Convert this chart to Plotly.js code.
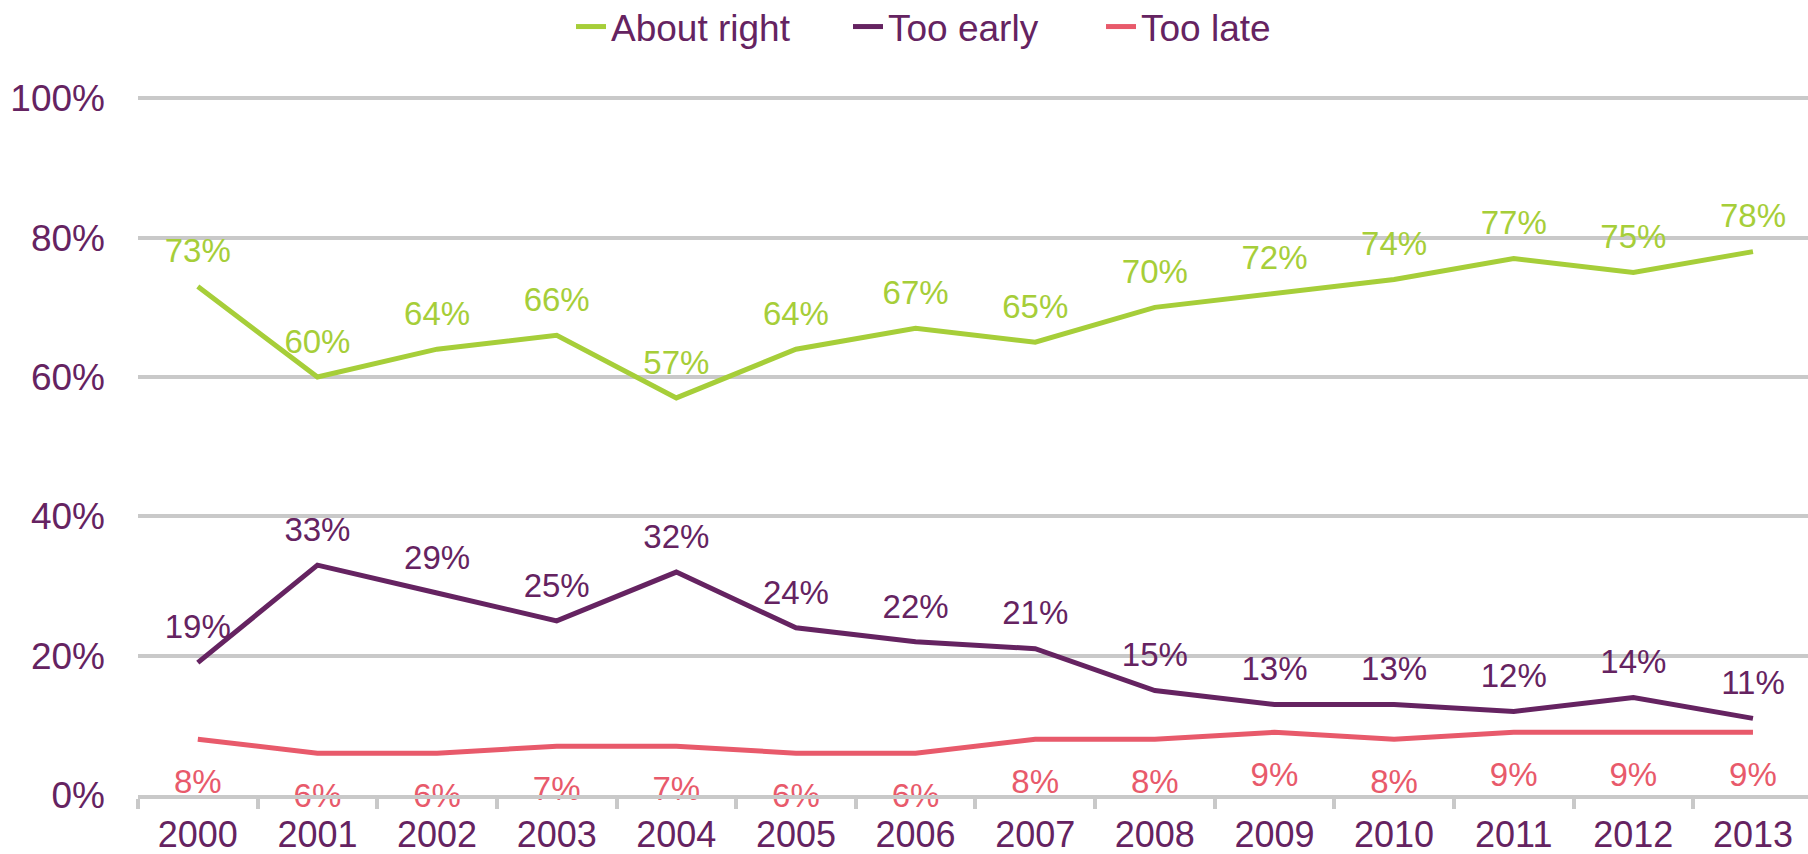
<!DOCTYPE html>
<html>
<head>
<meta charset="utf-8">
<script src="https://cdn.plot.ly/plotly-3.0.1.min.js"></script>
<style>html,body{margin:0;padding:0;background:#fff;}#chart{width:1808px;height:854px;}</style>
</head>
<body>
<div id="chart"></div>
<script>
const years = ['2000','2001','2002','2003','2004','2005','2006','2007','2008','2009','2010','2011','2012','2013'];
const aboutRight = [73, 60, 64, 66, 57, 64, 67, 65, 70, 72, 74, 77, 75, 78];
const tooEarly = [19, 33, 29, 25, 32, 24, 22, 21, 15, 13, 13, 12, 14, 11];
const tooLate = [8, 6, 6, 7, 7, 6, 6, 8, 8, 9, 8, 9, 9, 9];
const yTicks = [0, 20, 40, 60, 80, 100];

const GREEN = '#A6CE39';
const PURPLE = '#652361';
const RED = '#E85A6B';
const GRID = '#C9C9C9';
const FONT = 'Liberation Sans, Arial, sans-serif';

function series(name, y, color, pos, msize, legendId) {
  return {
    type: 'scatter',
    mode: 'lines+markers+text',
    name: name,
    legend: legendId,
    x: years,
    y: y,
    line: {color: color, width: 5},
    marker: {size: msize, opacity: 0, color: 'rgba(0,0,0,0)', line: {width: 0}},
    text: y.map(v => v + '%'),
    textposition: pos,
    textfont: {family: FONT, size: 33, color: color},
    cliponaxis: false,
    hoverinfo: 'skip'
  };
}

const data = [
  series('About right', aboutRight, GREEN, 'top center', 24, 'legend'),
  series('Too early', tooEarly, PURPLE, 'top center', 24, 'legend2'),
  series('Too late', tooLate, RED, 'bottom center', 45, 'legend3')
];

function leg(xpx) {
  return {
    orientation: 'h',
    xref: 'container', yref: 'container',
    x: xpx / 1808, xanchor: 'left',
    y: 1 - 27 / 854, yanchor: 'middle',
    font: {family: FONT, size: 37, color: PURPLE},
    bgcolor: 'rgba(0,0,0,0)',
    borderwidth: 0
  };
}

const layout = {
  width: 1808,
  height: 854,
  margin: {l: 138, r: 0, t: 97, b: 59, autoexpand: false},
  paper_bgcolor: '#ffffff',
  plot_bgcolor: '#ffffff',
  font: {family: FONT, color: PURPLE},
  showlegend: true,
  legend: leg(571),
  legend2: leg(848),
  legend3: leg(1101),
  xaxis: {
    type: 'category',
    range: [-0.5, 13.46],
    showgrid: false,
    showline: true,
    linecolor: GRID,
    linewidth: 4,
    ticks: 'outside',
    tickson: 'boundaries',
    ticklen: 10,
    tickwidth: 4,
    tickcolor: GRID,
    ticklabelstandoff: 5,
    tickfont: {family: FONT, size: 36, color: PURPLE},
    zeroline: false,
    automargin: false
  },
  yaxis: {
    range: [0, 100.2],
    tickvals: yTicks,
    ticktext: yTicks.map(v => v + '%'),
    showgrid: true,
    gridcolor: GRID,
    gridwidth: 4,
    zeroline: false,
    showline: false,
    ticks: '',
    ticklabelstandoff: 32,
    tickfont: {family: FONT, size: 37, color: PURPLE},
    automargin: false
  }
};

Plotly.newPlot('chart', data, layout, {displayModeBar: false, staticPlot: true});
</script>
</body>
</html>
